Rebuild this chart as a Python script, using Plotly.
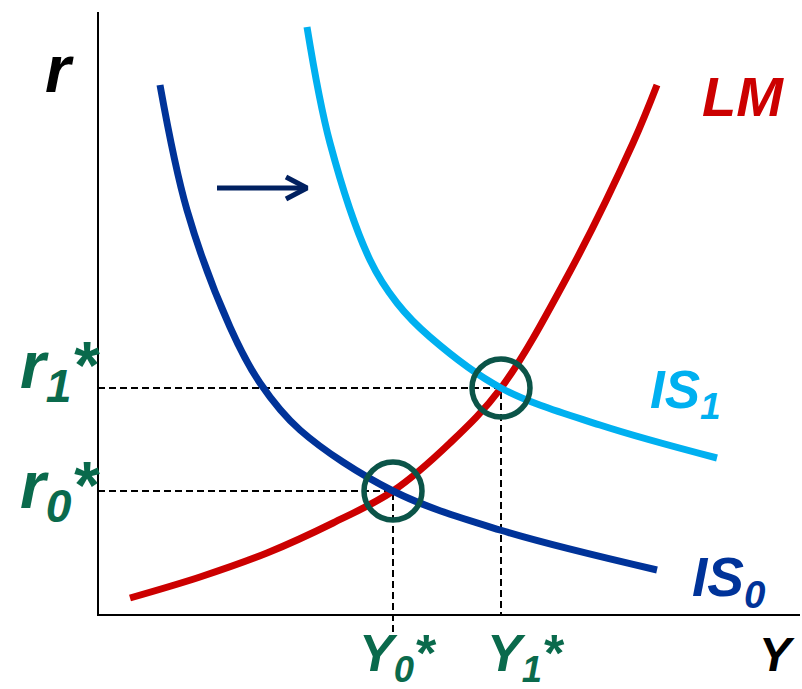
import plotly.graph_objects as go

# IS-LM diagram: output Y on the horizontal axis, interest rate r on the vertical axis
is0_Y = [62, 89, 132, 162, 202, 295, 402, 559]
is0_r = [530, 405, 288, 232, 185, 124, 85, 45]

is1_Y = [209, 232, 272, 299, 332, 403, 502, 619]
is1_r = [588, 472, 355, 312, 278, 227, 190, 157]

lm_Y = [32, 102, 169, 235, 295, 352, 403, 469, 535, 559]
lm_r = [17, 38, 62, 92, 124, 172, 227, 338, 472, 530]

# equilibria (IS0/LM and IS1/LM)
eq_Y = [295, 403]
eq_r = [124, 227]

# axis extents
axis_Y_max = 702
axis_r_max = 603

# shift arrow (IS0 -> IS1)
shift_Y = [119, 209]
shift_r = [427, 427]

RED = "#CC0000"
DARK_BLUE = "#003399"
LIGHT_BLUE = "#00B0F0"
GREEN = "#0A6A4C"
CIRCLE = "#0B5448"
NAVY = "#002060"
FONT = "Liberation Sans, Arial, sans-serif"

fig = go.Figure()

# dashed guide lines from the equilibria to the axes
fig.add_trace(go.Scatter(x=[0, eq_Y[0], eq_Y[0]], y=[eq_r[0], eq_r[0], -18], mode="lines",
                         line=dict(color="black", width=2, dash="7px,4px")))
fig.add_trace(go.Scatter(x=[0, eq_Y[1], eq_Y[1]], y=[eq_r[1], eq_r[1], 0], mode="lines",
                         line=dict(color="black", width=2, dash="7px,4px")))

# axes
fig.add_trace(go.Scatter(x=[0, 0, axis_Y_max], y=[axis_r_max, 0, 0], mode="lines",
                         line=dict(color="black", width=2)))

# curves
fig.add_trace(go.Scatter(x=lm_Y, y=lm_r, mode="lines",
                         line=dict(color=RED, width=7, shape="spline", smoothing=1)))
fig.add_trace(go.Scatter(x=is0_Y, y=is0_r, mode="lines",
                         line=dict(color=DARK_BLUE, width=7, shape="spline", smoothing=1)))
fig.add_trace(go.Scatter(x=is1_Y, y=is1_r, mode="lines",
                         line=dict(color=LIGHT_BLUE, width=7, shape="spline", smoothing=1)))

# shift arrow: shaft and open chevron head
head = 21
fig.add_trace(go.Scatter(x=[shift_Y[0], shift_Y[1]], y=[shift_r[0], shift_r[1]], mode="lines",
                         line=dict(color=NAVY, width=5)))
fig.add_trace(go.Scatter(x=[shift_Y[1] - head, shift_Y[1], shift_Y[1] - head],
                         y=[shift_r[1] + 11, shift_r[1], shift_r[1] - 11], mode="lines",
                         line=dict(color=NAVY, width=5)))

shapes = []
for x, y in zip(eq_Y, eq_r):
    rad = 29
    shapes.append(dict(type="circle", xref="x", yref="y", x0=x - rad, x1=x + rad,
                       y0=y - rad, y1=y + rad, line=dict(color=CIRCLE, width=5.5)))


def label(text, x, y, size, color):
    return dict(text=text, x=x, y=y, xref="x", yref="y", showarrow=False,
                xanchor="center", yanchor="middle",
                font=dict(family=FONT, size=size, color=color, weight="bold", style="italic"))


annotations = [
    label("r", -39, 546, 66, "black"),
    label("LM", 645, 519, 56, RED),
    label("IS<sub>1</sub>", 587, 222, 53, LIGHT_BLUE),
    label("IS<sub>0</sub>", 631, 34, 55, DARK_BLUE),
    label("r<sub>1</sub>*", -38, 245, 66, GREEN),
    label("r<sub>0</sub>*", -38, 125, 66, GREEN),
    label("Y<sub>0</sub>*", 300, -42, 52, GREEN),
    label("Y<sub>1</sub>*", 428, -42, 52, GREEN),
    label("Y", 679, -39, 48, "black"),
]

fig.update_layout(
    width=802, height=689,
    margin=dict(l=0, r=0, t=0, b=0),
    paper_bgcolor="white", plot_bgcolor="white",
    showlegend=False,
    xaxis=dict(range=[-98, 704], visible=False, fixedrange=True),
    yaxis=dict(range=[-74, 615], visible=False, fixedrange=True),
    shapes=shapes,
    annotations=annotations,
)

fig.write_html("out.html")
